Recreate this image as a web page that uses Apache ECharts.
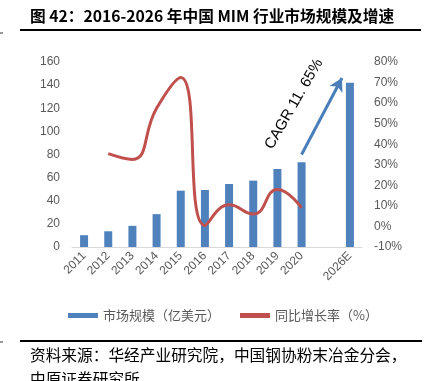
<!DOCTYPE html>
<html>
<head>
<meta charset="utf-8">
<script src="https://cdn.jsdelivr.net/npm/echarts@6/dist/echarts.min.js"></script>
<style>
  html, body { margin: 0; padding: 0; background: #fff; }
  #chart { width: 427px; height: 381px; }
</style>
</head>
<body>
<div id="chart"></div>
<script>
const years = ["2011", "2012", "2013", "2014", "2015", "2016", "2017", "2018", "2019", "2020", "", "2026E"];
const marketSize = [10.2, 13.6, 18.3, 28.4, 48.7, 49.3, 54.5, 57.4, 67.5, 73.3, null, 142];
const growthRate = [null, 35.4, 32.6, 57.5, 72.5, 0.5, 10.5, 6, 18, 9, null, null];

const grey = "#595959";
const cnFont = "'Noto Sans CJK SC', 'Liberation Sans', sans-serif";

const chart = echarts.init(document.getElementById("chart"));
chart.setOption({
  animation: false,
  textStyle: { fontFamily: "'Liberation Sans', Arial, sans-serif" },
  grid: { left: 72, right: 65, top: 62, bottom: 134 },
  legend: {
    left: 63,
    top: 304,
    itemWidth: 30,
    itemHeight: 5,
    itemGap: 20,
    textStyle: { color: grey, fontSize: 13, fontFamily: cnFont },
    data: [
      { name: "市场规模（亿美元）", icon: "rect" },
      { name: "同比增长率（%）", icon: "rect" },
    ],
  },
  xAxis: {
    type: "category",
    data: years,
    axisLine: { lineStyle: { color: "#d9d9d9" } },
    axisTick: { length: 5, lineStyle: { color: "#d9d9d9" } },
    axisLabel: { color: grey, fontSize: 12, rotate: 45, interval: 0, margin: 7 },
  },
  yAxis: [
    {
      type: "value",
      min: 0,
      max: 160,
      interval: 20,
      splitLine: { show: false },
      axisLabel: { color: grey, fontSize: 12, margin: 12 },
    },
    {
      type: "value",
      min: -10,
      max: 80,
      interval: 10,
      splitLine: { show: false },
      axisLabel: { color: grey, fontSize: 12, margin: 12, formatter: "{value}%" },
    },
  ],
  series: [
    {
      name: "市场规模（亿美元）",
      type: "bar",
      data: marketSize,
      barWidth: 8,
      itemStyle: { color: "#4f81bd" },
      markLine: {
        silent: true,
        symbol: ["none", "arrow"],
        symbolSize: [11, 13],
        lineStyle: { color: "#4a7ebb", width: 3, type: "solid" },
        label: { show: false },
        data: [[{ coord: [9, 80] }, { x: 342, y: 78 }]],
      },
    },
    {
      name: "同比增长率（%）",
      type: "line",
      yAxisIndex: 1,
      data: growthRate,
      smooth: 0.5,
      showSymbol: false,
      lineStyle: { color: "#c0504d", width: 3 },
      itemStyle: { color: "#c0504d" },
    },
  ],
  graphic: [
    {
      type: "text",
      left: 30,
      top: 8,
      style: {
        text: "图 42：2016-2026 年中国 MIM 行业市场规模及增速",
        font: "bold 15.7px " + cnFont,
        fill: "#000",
      },
    },
    { type: "rect", shape: { x: 20, y: 29, width: 401, height: 2 }, style: { fill: "#000" } },
    { type: "rect", shape: { x: 0, y: 32, width: 3, height: 2 }, style: { fill: "#999" } },
    {
      type: "text",
      x: 294,
      y: 104,
      rotation: (60 * Math.PI) / 180,
      style: {
        text: "CAGR 11. 65%",
        font: "15px 'Liberation Sans', Arial, sans-serif",
        fill: "#000",
        align: "center",
        verticalAlign: "middle",
      },
    },
    { type: "rect", shape: { x: 20, y: 340, width: 402, height: 2 }, style: { fill: "#000" } },
    { type: "rect", shape: { x: 0, y: 341, width: 3, height: 2 }, style: { fill: "#999" } },
    {
      type: "text",
      x: 30,
      y: 347,
      style: {
        text: "资料来源：华经产业研究院，中国钢协粉末冶金分会，",
        font: "15.7px " + cnFont,
        fill: "#000",
      },
    },
    {
      type: "text",
      x: 30,
      y: 371,
      style: { text: "中原证券研究所", font: "15.7px " + cnFont, fill: "#000" },
    },
  ],
});
</script>
</body>
</html>
